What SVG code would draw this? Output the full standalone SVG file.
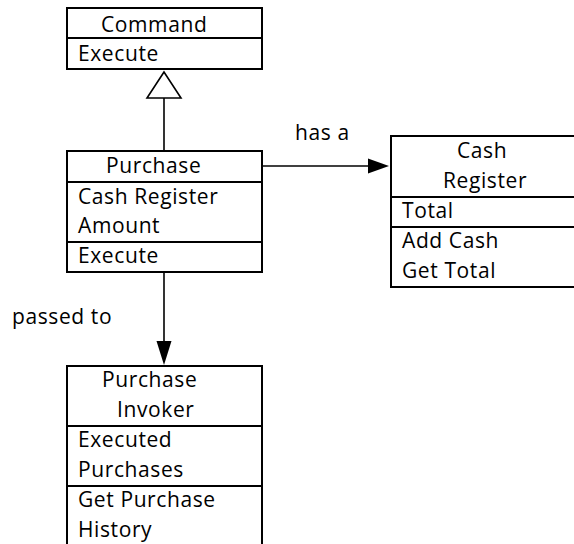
<svg xmlns="http://www.w3.org/2000/svg" width="574" height="544" viewBox="0 0 574 544">
<style>
.box{fill:#fff;stroke:#000;stroke-width:2}
.div{stroke:#000;stroke-width:2}
.t{font-family:"Open Sans","Liberation Sans",sans-serif;font-size:21px;letter-spacing:0.6px;fill:#000}
.c{stroke:#000;stroke-width:1.6;fill:none}
.head{fill:#000;stroke:none}
.tri{fill:#fff;stroke:#000;stroke-width:1.6}
</style>
<rect width="574" height="544" fill="#fff"/>
<g id="connectors">
<line class="c" x1="164" y1="151" x2="164" y2="98"/>
<polygon class="tri" points="164,72 147,98 181,98"/>
<line class="c" x1="262" y1="166" x2="370" y2="166"/>
<polygon class="head" points="389,166 368,158.5 368,173.5"/>
<line class="c" x1="164" y1="272" x2="164" y2="343"/>
<polygon class="head" points="164,365 156.5,341 171.5,341"/>
<text class="t" x="295" y="140">has a</text>
<text class="t" x="12" y="324">passed to</text>
</g>
<g id="command">
<rect class="box" x="67" y="8" width="195" height="61"/>
<line class="div" x1="67" y1="38" x2="262" y2="38"/>
<text class="t" x="101" y="32">Command</text>
<text class="t" x="78" y="61">Execute</text>
</g>
<g id="purchase">
<rect class="box" x="67" y="151" width="195" height="121"/>
<line class="div" x1="67" y1="182" x2="262" y2="182"/>
<line class="div" x1="67" y1="242" x2="262" y2="242"/>
<text class="t" x="106" y="173">Purchase</text>
<text class="t" x="78" y="204">Cash Register</text>
<text class="t" x="78" y="233">Amount</text>
<text class="t" x="78" y="263">Execute</text>
</g>
<g id="cash-register">
<rect class="box" x="391" y="136" width="200" height="151"/>
<line class="div" x1="391" y1="197" x2="591" y2="197"/>
<line class="div" x1="391" y1="227" x2="591" y2="227"/>
<text class="t" x="457" y="158">Cash</text>
<text class="t" x="443" y="188">Register</text>
<text class="t" x="402" y="218">Total</text>
<text class="t" x="402" y="248">Add Cash</text>
<text class="t" x="402" y="278">Get Total</text>
</g>
<g id="purchase-invoker">
<rect class="box" x="67" y="366" width="195" height="200"/>
<line class="div" x1="67" y1="426" x2="262" y2="426"/>
<line class="div" x1="67" y1="486" x2="262" y2="486"/>
<text class="t" x="102" y="387">Purchase</text>
<text class="t" x="117" y="417">Invoker</text>
<text class="t" x="78" y="447">Executed</text>
<text class="t" x="78" y="477">Purchases</text>
<text class="t" x="78" y="507">Get Purchase</text>
<text class="t" x="78" y="537">History</text>
</g>
</svg>
